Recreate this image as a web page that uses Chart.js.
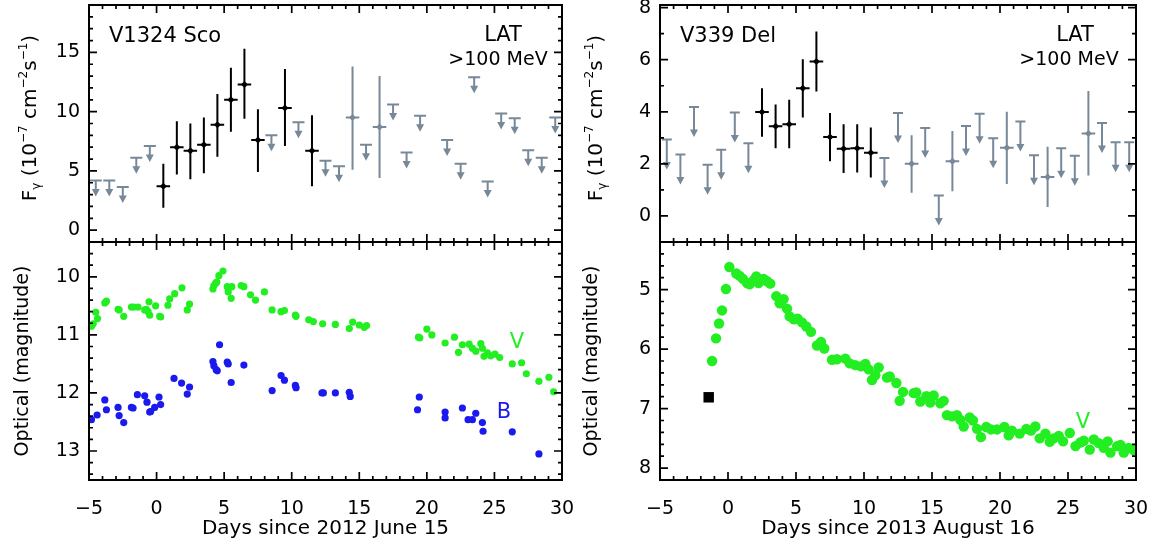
<!DOCTYPE html>
<html>
<head>
<meta charset="utf-8">
<script src="https://cdn.jsdelivr.net/npm/chart.js@4.4.1/dist/chart.umd.min.js"></script>
<style>
body { margin: 0; background: #fff; }
#wrap { position: relative; width: 1160px; height: 552px; }
#wrap canvas { position: absolute; left: 0; top: 0; }
</style>
</head>
<body>
<div id="wrap">
  <canvas id="scoLat" width="1160" height="552"></canvas>
  <canvas id="scoOpt" width="1160" height="552"></canvas>
  <canvas id="delLat" width="1160" height="552"></canvas>
  <canvas id="delOpt" width="1160" height="552"></canvas>
</div>
<script>
// ---- data: V1324 Sco, LAT >100 MeV (1e-7 cm^-2 s^-1)
const scoDetDays = [0.5, 1.5, 2.5, 3.5, 4.5, 5.5, 6.5, 7.5, 9.5, 11.5];
const scoDetFlux = [3.7, 7.0, 6.7, 7.2, 8.9, 11.0, 12.3, 7.6, 10.3, 6.7];
const scoDetLo = [1.9, 4.7, 4.3, 4.8, 6.2, 8.3, 9.4, 4.9, 7.1, 3.7];
const scoDetHi = [5.6, 9.2, 9.0, 9.5, 11.5, 13.7, 15.3, 10.2, 13.6, 9.7];
const scoWeakDays = [14.5, 16.5];
const scoWeakFlux = [9.5, 8.7];
const scoWeakLo = [5.1, 4.4];
const scoWeakHi = [13.8, 13.0];
const scoUlDays = [-4.5, -3.5, -2.5, -1.5, -0.5, 8.5, 10.5, 12.5, 13.5, 15.5, 17.5, 18.5, 19.5, 21.5, 22.5, 23.5, 24.5, 25.5, 26.5, 27.5, 28.5, 29.5];
const scoUlFlux = [4.2, 4.2, 3.65, 6.1, 7.1, 8.0, 9.1, 5.85, 5.4, 7.2, 10.6, 6.55, 9.65, 7.6, 5.6, 12.9, 4.1, 9.85, 9.45, 6.75, 6.1, 9.5];

// ---- data: V1324 Sco optical
const scoVDays = [-4.82, -4.69, -4.5, -4.37, -3.83, -3.71, -2.85, -2.77, -2.43, -1.86, -1.69, -1.37, -0.88, -0.76, -0.56, -0.51, -0.63, -0.07, 0.23, 0.3, 0.84, 0.97, 1.34, 1.88, 2.27, 2.44,
  4.17, 4.24, 4.37, 4.46, 4.61, 4.91, 5.23, 5.3, 5.52, 5.57, 6.26, 6.46, 6.95, 7.32, 7.98, 8.55, 9.21, 9.46, 10.27, 10.32, 11.26, 11.6, 12.29, 13.23, 14.26, 14.51, 15.0, 15.37, 15.54,
  19.38, 19.48, 20.0, 20.37, 21.35, 22.04, 22.34, 22.63, 23.13, 23.37, 23.62, 23.99, 24.11, 24.23, 24.48, 24.72, 25.04, 25.39, 26.32, 27.01, 27.36, 28.29, 29.03, 29.38];
const scoVMag = [10.85, 10.81, 10.61, 10.72, 10.45, 10.42, 10.56, 10.57, 10.68, 10.52, 10.52, 10.52, 10.57, 10.56, 10.43, 10.66, 10.6, 10.5, 10.68, 10.69, 10.49, 10.38, 10.29, 10.19, 10.57, 10.47,
  10.21, 10.15, 10.11, 10.09, 9.98, 9.9, 10.17, 10.26, 10.37, 10.17, 10.15, 10.17, 10.31, 10.4, 10.26, 10.57, 10.6, 10.58, 10.66, 10.68, 10.74, 10.77, 10.81, 10.82, 10.89, 10.78, 10.83, 10.87, 10.84,
  11.04, 11.05, 10.9, 11.0, 11.14, 11.04, 11.3, 11.17, 11.16, 11.23, 11.28, 11.15, 11.23, 11.37, 11.31, 11.36, 11.33, 11.39, 11.5, 11.48, 11.67, 11.8, 11.73, 11.98];
const scoBDays = [-4.82, -4.4, -3.83, -3.71, -2.85, -2.77, -2.43, -1.86, -1.74, -1.42, -0.88, -0.71, -0.51, -0.44, -0.14, 0.18, 0.3, 1.29, 1.85, 2.27, 2.44,
  4.17, 4.24, 4.41, 4.49, 4.66, 5.23, 5.3, 5.52, 6.46, 8.55, 9.21, 9.46, 10.27, 10.32, 12.24, 12.34, 13.23, 14.26, 14.33,
  19.31, 19.44, 21.35, 21.35, 22.63, 23.05, 23.37, 23.62, 24.11, 24.16, 26.32, 28.29];
const scoBMag = [12.46, 12.38, 12.12, 12.29, 12.25, 12.39, 12.51, 12.25, 12.26, 12.03, 12.05, 12.16, 12.33, 12.32, 12.25, 12.07, 12.2, 11.75, 11.83, 12.02, 11.9,
  11.46, 11.53, 11.6, 11.62, 11.17, 11.47, 11.5, 11.82, 11.52, 11.96, 11.7, 11.78, 11.87, 11.91, 12.0, 12.0, 12.0, 11.99, 12.06,
  12.29, 12.07, 12.33, 12.43, 12.26, 12.46, 12.46, 12.35, 12.51, 12.66, 12.67, 13.05];

// ---- data: V339 Del, LAT >100 MeV
const delDetDays = [2.5, 3.5, 4.5, 5.5, 6.5, 7.5, 8.5, 9.5, 10.5];
const delDetFlux = [3.99, 3.44, 3.52, 4.9, 5.93, 3.03, 2.58, 2.6, 2.43];
const delDetLo = [3.04, 2.6, 2.6, 3.78, 4.78, 2.1, 1.65, 1.67, 1.48];
const delDetHi = [4.9, 4.28, 4.46, 6.02, 7.08, 3.95, 3.52, 3.52, 3.4];
const delWeakDays = [13.5, 16.5, 20.5, 23.5, 26.5];
const delWeakFlux = [2.0, 2.1, 2.62, 1.5, 3.17];
const delWeakLo = [0.89, 0.95, 1.23, 0.34, 1.55];
const delWeakHi = [3.1, 3.26, 4.0, 2.66, 4.8];
const delUlDays = [-4.5, -3.5, -2.5, -1.5, -0.5, 0.5, 1.5, 11.5, 12.5, 14.5, 15.5, 17.5, 18.5, 19.5, 21.5, 22.5, 24.5, 25.5, 27.5, 28.5, 29.5];
const delUlFlux = [2.94, 2.36, 4.18, 1.97, 2.54, 3.97, 2.79, 2.23, 3.95, 3.38, 0.79, 3.45, 3.92, 2.98, 3.63, 2.33, 2.6, 2.31, 3.57, 2.83, 2.83];

// ---- data: V339 Del optical
const delPreDays = [-1.42];
const delPreMag = [6.81];
const delVDays = [-1.17, -0.88, -0.66, -0.44, -0.15, 0.1, 0.61, 0.86, 1.1, 1.4, 1.59, 1.89, 2.08, 2.25, 2.62, 2.87, 3.11, 3.55, 3.8, 4.09, 4.34, 4.53, 4.83, 5.12, 5.44, 5.76, 6.1,
  6.54, 6.84, 7.08, 7.65, 8.01, 8.63, 8.95, 9.36, 9.78, 10.1, 10.34, 10.59, 10.83, 11.08, 11.69, 11.89, 12.38, 12.62, 12.87,
  13.65, 13.84, 14.14, 14.58, 14.87, 15.12, 15.61, 15.86, 16.1, 16.47, 16.84, 17.08, 17.33, 17.77, 18.01, 18.31, 18.6, 18.99, 19.34, 19.78, 20.32, 20.64, 20.88,
  21.45, 21.94, 22.28, 22.6, 22.92, 23.34, 23.66, 23.95, 24.32, 24.64, 25.13, 25.55, 25.91, 26.16, 26.6, 26.9, 27.26, 27.63, 27.92, 28.12, 28.61, 28.86, 29.1, 29.47, 29.84];
const delVMag = [6.2, 5.82, 5.57, 5.35, 4.99, 4.62, 4.73, 4.77, 4.82, 4.89, 4.91, 4.84, 4.78, 4.89, 4.82, 4.86, 4.9, 5.11, 5.23, 5.16, 5.32, 5.45, 5.5, 5.49, 5.55, 5.62, 5.71,
  5.94, 5.88, 5.99, 6.18, 6.17, 6.16, 6.24, 6.27, 6.29, 6.25, 6.34, 6.52, 6.44, 6.31, 6.48, 6.46, 6.57, 6.87, 6.72,
  6.74, 6.73, 6.88, 6.79, 6.9, 6.78, 6.91, 6.87, 7.11, 7.13, 7.11, 7.19, 7.3, 7.15, 7.2, 7.34, 7.48, 7.31, 7.35, 7.35, 7.31, 7.45, 7.37,
  7.42, 7.34, 7.37, 7.3, 7.5, 7.42, 7.56, 7.5, 7.46, 7.55, 7.41, 7.63, 7.57, 7.54, 7.69, 7.52, 7.58, 7.66, 7.55, 7.74, 7.63, 7.61, 7.74, 7.66, 7.7];

// ---- tick labels
const dayTicks = [-5, 0, 5, 10, 15, 20, 25, 30];
const scoFluxTicks = [0, 5, 10, 15];
const delFluxTicks = [0, 2, 4, 6, 8];
const scoMagTicks = [10, 11, 12, 13];
const delMagTicks = [5, 6, 7, 8];

const FONT = "'DejaVu Sans', 'Liberation Sans', Arial, sans-serif";
Chart.defaults.font.family = FONT;
Chart.defaults.color = '#000';

const BLACK = '#000000';
const GREY = '#778899';
const GREEN = '#22ee22';
const BLUE = '#1a1aee';

const pts = (xs, ys) => xs.map((x, i) => ({ x: x, y: ys[i] }));
const fmt = v => (v < 0 ? '\u2212' + Math.abs(v) : String(v));
const fixTicks = list => scale => { scale.ticks = list.map(v => ({ value: v })); };

// frame with inward ticks on all four sides
const framePlugin = {
  id: 'frame',
  afterDraw(chart, args, o) {
    const { ctx, chartArea: a } = chart;
    ctx.save();
    ctx.strokeStyle = '#000';
    ctx.lineWidth = 1.7;
    const drawTicks = (scale, step, isX) => {
      const majors = scale.ticks.map(t => t.value);
      const k0 = Math.ceil(scale.min / step - 1e-6), k1 = Math.floor(scale.max / step + 1e-6);
      for (let k = k0; k <= k1; k++) {
        const v = k * step;
        const len = majors.some(m => Math.abs(m - v) < 1e-6) ? 8 : 4;
        const p = scale.getPixelForValue(v);
        ctx.beginPath();
        if (isX) {
          ctx.moveTo(p, a.bottom); ctx.lineTo(p, a.bottom - len);
          ctx.moveTo(p, a.top); ctx.lineTo(p, a.top + len);
        } else {
          ctx.moveTo(a.left, p); ctx.lineTo(a.left + len, p);
          ctx.moveTo(a.right, p); ctx.lineTo(a.right - len, p);
        }
        ctx.stroke();
      }
    };
    drawTicks(chart.scales.x, o.xMinor, true);
    drawTicks(chart.scales.y, o.yMinor, false);
    ctx.lineWidth = 2;
    ctx.strokeRect(a.left, a.top, a.width, a.height);
    ctx.restore();
  }
};

// error bars and upper-limit arrows
const errorPlugin = {
  id: 'errors',
  beforeDatasetsDraw(chart) {
    const { ctx } = chart;
    const xs = chart.scales.x, ys = chart.scales.y;
    chart.data.datasets.forEach(ds => {
      ctx.save();
      ctx.strokeStyle = ds.backgroundColor;
      ctx.fillStyle = ds.backgroundColor;
      ctx.lineWidth = 2;
      ds.data.forEach((pt, j) => {
        const x = xs.getPixelForValue(pt.x), y = ys.getPixelForValue(pt.y);
        if (ds.lo) {
          ctx.beginPath();
          ctx.moveTo(x, ys.getPixelForValue(ds.lo[j]));
          ctx.lineTo(x, ys.getPixelForValue(ds.hi[j]));
          ctx.moveTo(xs.getPixelForValue(pt.x - 0.5), y);
          ctx.lineTo(xs.getPixelForValue(pt.x + 0.5), y);
          ctx.stroke();
        }
        if (ds.arrow) {
          const w = ds.arrow.half, len = ds.arrow.len;
          ctx.beginPath();
          ctx.moveTo(x - w, y); ctx.lineTo(x + w, y);
          ctx.moveTo(x, y); ctx.lineTo(x, y + len - 6);
          ctx.stroke();
          ctx.beginPath();
          ctx.moveTo(x - 4, y + len - 7.5);
          ctx.lineTo(x + 4, y + len - 7.5);
          ctx.lineTo(x, y + len);
          ctx.closePath();
          ctx.fill();
        }
      });
      ctx.restore();
    });
  }
};

// text notes placed relative to the plot box
const notesPlugin = {
  id: 'notes',
  afterDraw(chart, args, o) {
    const { ctx, chartArea: a } = chart;
    ctx.save();
    ctx.textBaseline = 'alphabetic';
    (o.items || []).forEach(n => {
      ctx.font = n.size + 'px ' + FONT;
      ctx.fillStyle = n.color || '#000';
      ctx.textAlign = n.align || 'left';
      const x = n.fromRight ? a.right - n.dx : a.left + n.dx;
      ctx.fillText(n.text, x, a.top + n.dy);
    });
    ctx.restore();
  }
};

// rotated flux axis title with sub/superscripts
const fluxTitlePlugin = {
  id: 'fluxTitle',
  afterDraw(chart, args, o) {
    if (!o.x) return;
    const ctx = chart.ctx;
    const parts = [['F', 20, 0], ['\u03b3', 12, 4], [' (10', 20, 0], ['\u22127', 12, -9], [' cm', 20, 0], ['\u22122', 12, -9], ['s', 20, 0], ['\u22121', 12, -9], [')', 20, 0]];
    ctx.save();
    ctx.translate(o.x, o.y);
    ctx.rotate(-Math.PI / 2);
    ctx.fillStyle = '#000';
    ctx.textBaseline = 'alphabetic';
    ctx.textAlign = 'left';
    let total = 0;
    parts.forEach(p => { ctx.font = p[1] + 'px ' + FONT; total += ctx.measureText(p[0]).width; });
    let u = -total / 2;
    parts.forEach(p => {
      ctx.font = p[1] + 'px ' + FONT;
      ctx.fillText(p[0], u, 7.5 + p[2]);
      u += ctx.measureText(p[0]).width;
    });
    ctx.restore();
  }
};

function makePanel(id, opt) {
  const xAxis = {
    type: 'linear', min: -5, max: 30,
    afterBuildTicks: fixTicks(dayTicks),
    afterFit: s => { s.paddingLeft = 0; s.paddingRight = 0; if (opt.showX) s.height = 72; },
    grid: { display: false, drawTicks: false },
    border: { display: false },
    display: opt.showX
  };
  if (opt.showX) {
    xAxis.ticks = { padding: 18, font: { size: 19 }, callback: fmt, maxRotation: 0 };
    xAxis.title = { display: true, text: opt.xTitle, font: { size: 20 }, padding: { top: 0, bottom: 11 } };
  }
  const yAxis = {
    type: 'linear', min: opt.yMin, max: opt.yMax, reverse: !!opt.reverse,
    afterBuildTicks: fixTicks(opt.yTicks),
    afterFit: s => { s.width = opt.yWidth; s.paddingTop = 0; s.paddingBottom = 0; },
    grid: { display: false, drawTicks: false },
    border: { display: false },
    ticks: { padding: 9, font: { size: 19 }, callback: fmt }
  };
  if (opt.yTitle) {
    yAxis.title = { display: true, text: opt.yTitle, font: { size: 19 }, padding: { top: opt.yTitlePad, bottom: 0 } };
  }
  return new Chart(document.getElementById(id), {
    type: 'scatter',
    data: { datasets: opt.datasets },
    options: {
      responsive: false,
      animation: false,
      events: [],
      layout: { padding: opt.pad },
      scales: { x: xAxis, y: yAxis },
      plugins: {
        legend: { display: false },
        tooltip: { enabled: false },
        frame: { xMinor: 1, yMinor: opt.yMinor },
        notes: { items: opt.notes },
        fluxTitle: opt.fluxTitle || {}
      }
    },
    plugins: [errorPlugin, framePlugin, notesPlugin, fluxTitlePlugin]
  });
}

const latDatasets = (detD, detF, lo, hi, wD, wF, wLo, wHi, ulD, ulF, arrowLen, half) => [
  { data: pts(ulD, ulF), backgroundColor: GREY, pointRadius: 0, arrow: { len: arrowLen, half: half } },
  { data: pts(wD, wF), backgroundColor: GREY, borderWidth: 0, pointStyle: 'rectRot', pointRadius: 3.5, lo: wLo, hi: wHi },
  { data: pts(detD, detF), backgroundColor: BLACK, borderWidth: 0, pointStyle: 'rectRot', pointRadius: 3.5, lo: lo, hi: hi }
];

makePanel('scoLat', {
  pad: { left: 0, top: 5, right: 598, bottom: 310 },
  showX: false, yMin: -1, yMax: 19, yTicks: scoFluxTicks, yMinor: 1, yWidth: 89,
  datasets: latDatasets(scoDetDays, scoDetFlux, scoDetLo, scoDetHi, scoWeakDays, scoWeakFlux, scoWeakLo, scoWeakHi, scoUlDays, scoUlFlux, 16, 6),
  notes: [
    { text: 'V1324 Sco', dx: 20, dy: 37, size: 21 },
    { text: 'LAT', dx: 59, dy: 36, size: 21, align: 'center', fromRight: true },
    { text: '>100 MeV', dx: 64, dy: 60, size: 19, align: 'center', fromRight: true }
  ],
  fluxTitle: { x: 28, y: 118 }
});

makePanel('scoOpt', {
  pad: { left: 0, top: 242, right: 598, bottom: 0 },
  showX: true, xTitle: 'Days since 2012 June 15',
  yMin: 9.4, yMax: 13.5, reverse: true, yTicks: scoMagTicks, yMinor: 0.2, yWidth: 89,
  yTitle: 'Optical (magnitude)', yTitlePad: 12,
  datasets: [
    { data: pts(scoVDays, scoVMag), backgroundColor: GREEN, borderWidth: 0, pointRadius: 3.6 },
    { data: pts(scoBDays, scoBMag), backgroundColor: BLUE, borderWidth: 0, pointRadius: 3.6 }
  ],
  notes: [
    { text: 'V', dx: 428, dy: 106, size: 21, align: 'center', color: GREEN },
    { text: 'B', dx: 415, dy: 176, size: 21, align: 'center', color: BLUE }
  ]
});

makePanel('delLat', {
  pad: { left: 570, top: 5, right: 24, bottom: 310 },
  showX: false, yMin: -1, yMax: 8.1, yTicks: delFluxTicks, yMinor: 1, yWidth: 90,
  datasets: latDatasets(delDetDays, delDetFlux, delDetLo, delDetHi, delWeakDays, delWeakFlux, delWeakLo, delWeakHi, delUlDays, delUlFlux, 30, 5),
  notes: [
    { text: 'V339 Del', dx: 20, dy: 37, size: 21 },
    { text: 'LAT', dx: 61, dy: 36, size: 21, align: 'center', fromRight: true },
    { text: '>100 MeV', dx: 67, dy: 60, size: 19, align: 'center', fromRight: true }
  ],
  fluxTitle: { x: 594, y: 118 }
});

makePanel('delOpt', {
  pad: { left: 570, top: 242, right: 24, bottom: 0 },
  showX: true, xTitle: 'Days since 2013 August 16',
  yMin: 4.2, yMax: 8.2, reverse: true, yTicks: delMagTicks, yMinor: 0.2, yWidth: 90,
  yTitle: 'Optical (magnitude)', yTitlePad: 11,
  datasets: [
    { data: pts(delVDays, delVMag), backgroundColor: GREEN, borderWidth: 0, pointRadius: 5.2 },
    { data: pts(delPreDays, delPreMag), backgroundColor: BLACK, borderWidth: 0, pointStyle: 'rect', pointRadius: 7.4 }
  ],
  notes: [
    { text: 'V', dx: 423, dy: 186, size: 21, align: 'center', color: GREEN }
  ]
});
</script>
</body>
</html>
